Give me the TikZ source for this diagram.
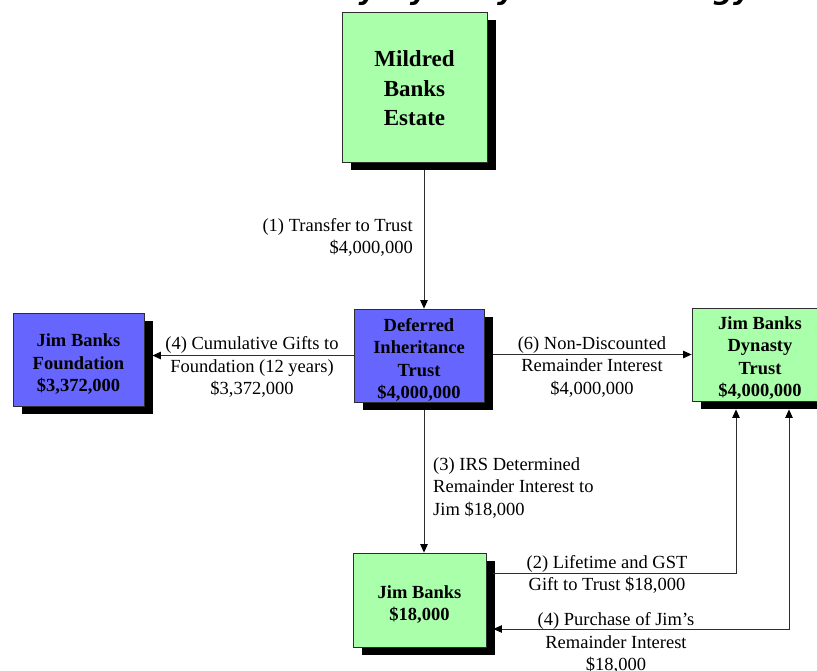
\documentclass[tikz,border=0pt]{standalone}
\usepackage{fontspec}
\setmainfont{Liberation Serif}
\newfontfamily\titlefont{DejaVu Sans}
\usetikzlibrary{arrows.meta,shadows,calc}
\definecolor{boxgreen}{RGB}{170,255,170}
\definecolor{boxblue}{RGB}{102,102,255}
\definecolor{edge}{RGB}{45,45,45}
\newcommand\bxstrut{\rule{0pt}{22pt}}
\begin{document}
\begin{tikzpicture}[x=1pt,y=-1pt,
  box/.style={draw=edge,line width=0.8pt,align=center,inner sep=0pt,
    font=\bfseries\fontsize{18.5}{22.5}\selectfont,
    drop shadow={shadow xshift=8.5pt,shadow yshift=-8pt,fill=black,opacity=1}},
  greenbox/.style={box,fill=boxgreen},
  bluebox/.style={box,fill=boxblue},
  lbl/.style={font=\fontsize{18.5}{22.5}\selectfont,inner sep=0pt},
  tip/.tip={Triangle[length=8.5pt,width=7.5pt,color=black]},
  arr/.style={draw=edge,line width=0.9pt,-tip},
  arrboth/.style={draw=edge,line width=0.9pt,tip-tip}]
\useasboundingbox (0,0) rectangle (817,670);
\begin{scope}
\clip (0,0) rectangle (817,670);
\node[font=\titlefont\bfseries\itshape\fontsize{28}{32}\selectfont,anchor=base,inner sep=0pt] (title) at (427,-0.5) {The Banks Family Dynasty Trust Strategy};

\node[greenbox,minimum width=145pt,minimum height=150pt,font=\bfseries\fontsize{23}{29.5}\selectfont] (mil) at (414.5,87) {\rule{0pt}{19pt}Mildred\\Banks\\Estate};
\node[bluebox,minimum width=130pt,minimum height=93pt] (dit) at (419,355.5) {\bxstrut Deferred\\Inheritance\\Trust\\\$4,000,000};
\node[bluebox,minimum width=131pt,minimum height=93pt] (fnd) at (78.5,359.5) {\bxstrut Jim Banks\\Foundation\\\$3,372,000};
\node[greenbox,minimum width=136pt,minimum height=93pt] (dyn) at (760,354.5) {\rule{0pt}{20pt}Jim Banks\\Dynasty\\Trust\\\$4,000,000};
\node[greenbox,minimum width=133pt,minimum height=94pt] (jim) at (419.5,600) {\bxstrut Jim Banks\\\$18,000};

\coordinate (c1) at (424,0);
\coordinate (c3) at (736,573);
\coordinate (c4) at (789,629);
\coordinate (milb) at ([yshift=-8pt]mil.south);
\coordinate (ditb) at ([yshift=-8pt]dit.south);
\coordinate (ditr) at ([xshift=9pt]dit.east);
\coordinate (fndr) at ([xshift=8pt]fnd.east);
\coordinate (dynb) at ([yshift=-8pt]dyn.south);
\coordinate (jimr) at ([xshift=7pt]jim.east);

\draw[arr] (milb -| c1) -- (dit.north -| c1);
\draw[arr] (dit.west) -- (fndr |- dit.west);
\draw[arr] (ditr |- dyn.west) -- (dyn.west);
\draw[arr] (ditb -| c1) -- (jim.north -| c1);
\draw[arr] (jimr |- c3) -- (c3) -- (dynb -| c3);
\draw[arrboth] (dynb -| c4) -- (c4) -- (jimr |- c4);

\node[lbl,align=right,anchor=east] (l1) at (413,237.5) {(1) Transfer to Trust\\\$4,000,000};
\node[lbl,align=center] (l4a) at (252,367) {(4) Cumulative Gifts to\\Foundation (12 years)\\\$3,372,000};
\node[lbl,align=center] (l6) at (592,366.5) {(6) Non-Discounted\\Remainder Interest\\\$4,000,000};
\node[lbl,align=left,anchor=west] (l3) at (433,487.5) {(3) IRS Determined\\Remainder Interest to\\Jim \$18,000};
\node[lbl,align=center] (l2) at (607,574.5) {(2) Lifetime and GST\\Gift to Trust \$18,000};
\node[lbl,align=center] (l4b) at (616,643) {(4) Purchase of Jim’s\\Remainder Interest\\\$18,000};
\end{scope}
\end{tikzpicture}
\end{document}
